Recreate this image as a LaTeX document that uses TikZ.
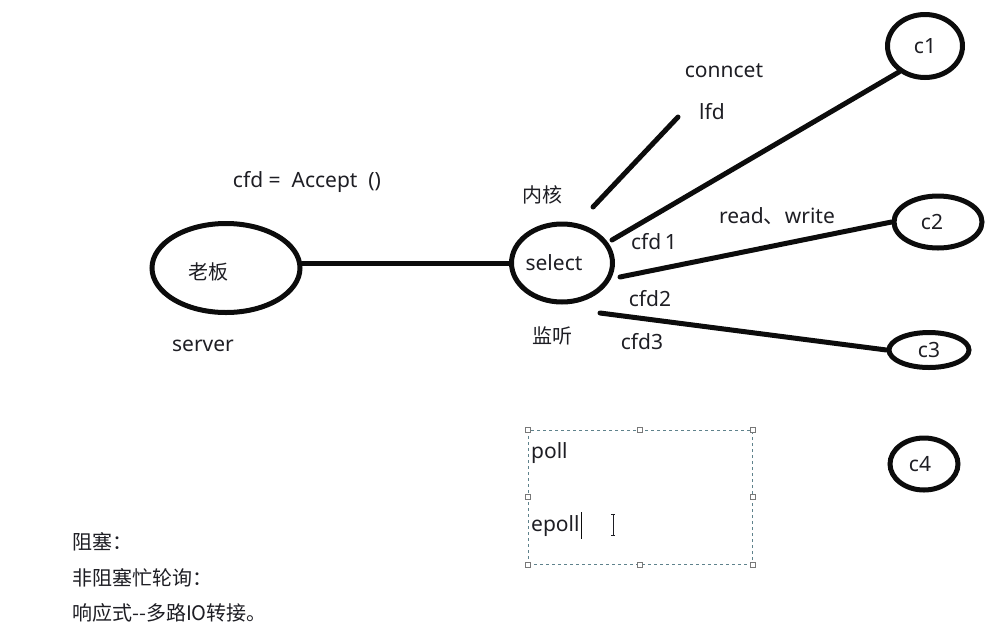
\documentclass[tikz,border=0pt]{standalone}
\usepackage{fontspec}
\setmainfont{Noto Sans}
\newfontfamily\cjk{Noto Sans CJK SC}
\usetikzlibrary{shapes.geometric,positioning}
\definecolor{inkblack}{RGB}{12,12,12}
\definecolor{txtgray}{RGB}{30,30,36}
\definecolor{selframe}{RGB}{95,130,140}
\definecolor{handlegray}{RGB}{120,120,120}
\tikzset{
  peer/.style={ellipse, draw=inkblack, line width=5pt, inner sep=0pt},
  wire/.style={line width=5pt, inkblack, line cap=round},
  lbl/.style={font=\fontsize{21}{24}\selectfont, text=txtgray, inner sep=0pt},
  cjklbl/.style={lbl, font=\cjk\fontsize{20}{24}\selectfont},
  selbox/.style={rectangle, draw=selframe, dashed, line width=0.8pt,
                 minimum width=224pt, minimum height=134pt, inner sep=0pt},
  grip/.style={rectangle, draw=handlegray, fill=white, line width=0.7pt,
               minimum size=5pt, inner sep=0pt},
}
\begin{document}
\begin{tikzpicture}[x=1pt, y=-1pt]
  \useasboundingbox (0,0) rectangle (989,633);
  % ellipses
  \node[peer, minimum width=148pt, minimum height=89pt] (boss) at (226,268) {};
  \node[peer, minimum width=101pt, minimum height=78pt] (sel)  at (562,263) {};
  \node[peer, minimum width=75pt,  minimum height=63pt] (c1)   at (925,46)  {};
  \node[peer, minimum width=88pt,  minimum height=52pt] (c2)   at (938,222) {};
  \node[peer, minimum width=80pt,  minimum height=35pt] (c3)   at (929,350) {};
  \node[peer, minimum width=68pt,  minimum height=52pt] (c4)   at (924,464) {};
  % free ends
  \coordinate (k1) at (593,207);
  \coordinate (k2) at (678,117);
  \coordinate (s1) at (612,240);
  \coordinate (s2) at (620,277);
  \coordinate (s3) at (600,313);
  % wires
  \draw[wire] (boss.east |- sel.west) -- (sel.west);
  \draw[wire] (k1) -- (k2);
  \draw[wire] (s1) -- (c1.225);
  \draw[wire] (s2) -- (c2.west);
  \draw[wire] (s3) -- (c3.west);
  % labels
  \node[lbl] (acc) at (307,182) {cfd =\ \ Accept\ \ ()};
  \node[cjklbl] (laoban) at (208,272) {老板};
  \node[lbl] (srv) at (203,346) {server};
  \node[cjklbl] (neihe) at (542,195) {内核};
  \node[lbl] (seltxt) at (554,263) {select};
  \node[cjklbl] (jianting) at (552,336) {监听};
  \node[lbl] (conn) at (724,71) {conncet};
  \node[lbl] (lfd) at (712,112) {lfd};
  \node[lbl] (rw) at (777,216) {read{\cjk 、}write};
  \node[lbl] (cfd1) at (654,242) {cfd\,1};
  \node[lbl] (cfd2) at (650,299) {cfd2};
  \node[lbl] (cfd3) at (642,342) {cfd3};
  \node[lbl] at (c1) {c1};
  \node[lbl] at ([xshift=-6pt]c2) {c2};
  \node[lbl] at (c3) {c3};
  \node[lbl] at ([xshift=-4pt]c4) {c4};
  % text box
  \node[selbox] (pbox) at (640,497) {};
  \foreach \a in {north west,north,north east,east,south east,south,south west,west}
    \node[grip] at (pbox.\a) {};
  \node[lbl, anchor=west] (poll) at (531,453) {poll};
  \node[lbl, anchor=west] (epoll) at (531,526) {epoll};
  \draw[inkblack, line width=1pt] ([xshift=2pt]epoll.east |- 0,512) -- ([xshift=2pt]epoll.east |- 0,539);
  \draw[txtgray, line width=0.8pt] (611,514) -- (615,514) (613,514) -- (613,535) (611,535) -- (615,535);
  % notes
  \node[cjklbl, anchor=west] (n1) at (72,542) {阻塞：};
  \node[cjklbl, anchor=west] (n2) at (72,578) {非阻塞忙轮询：};
  \node[cjklbl, anchor=west] (n3) at (72,613) {响应式--多路IO转接。};
\end{tikzpicture}
\end{document}
